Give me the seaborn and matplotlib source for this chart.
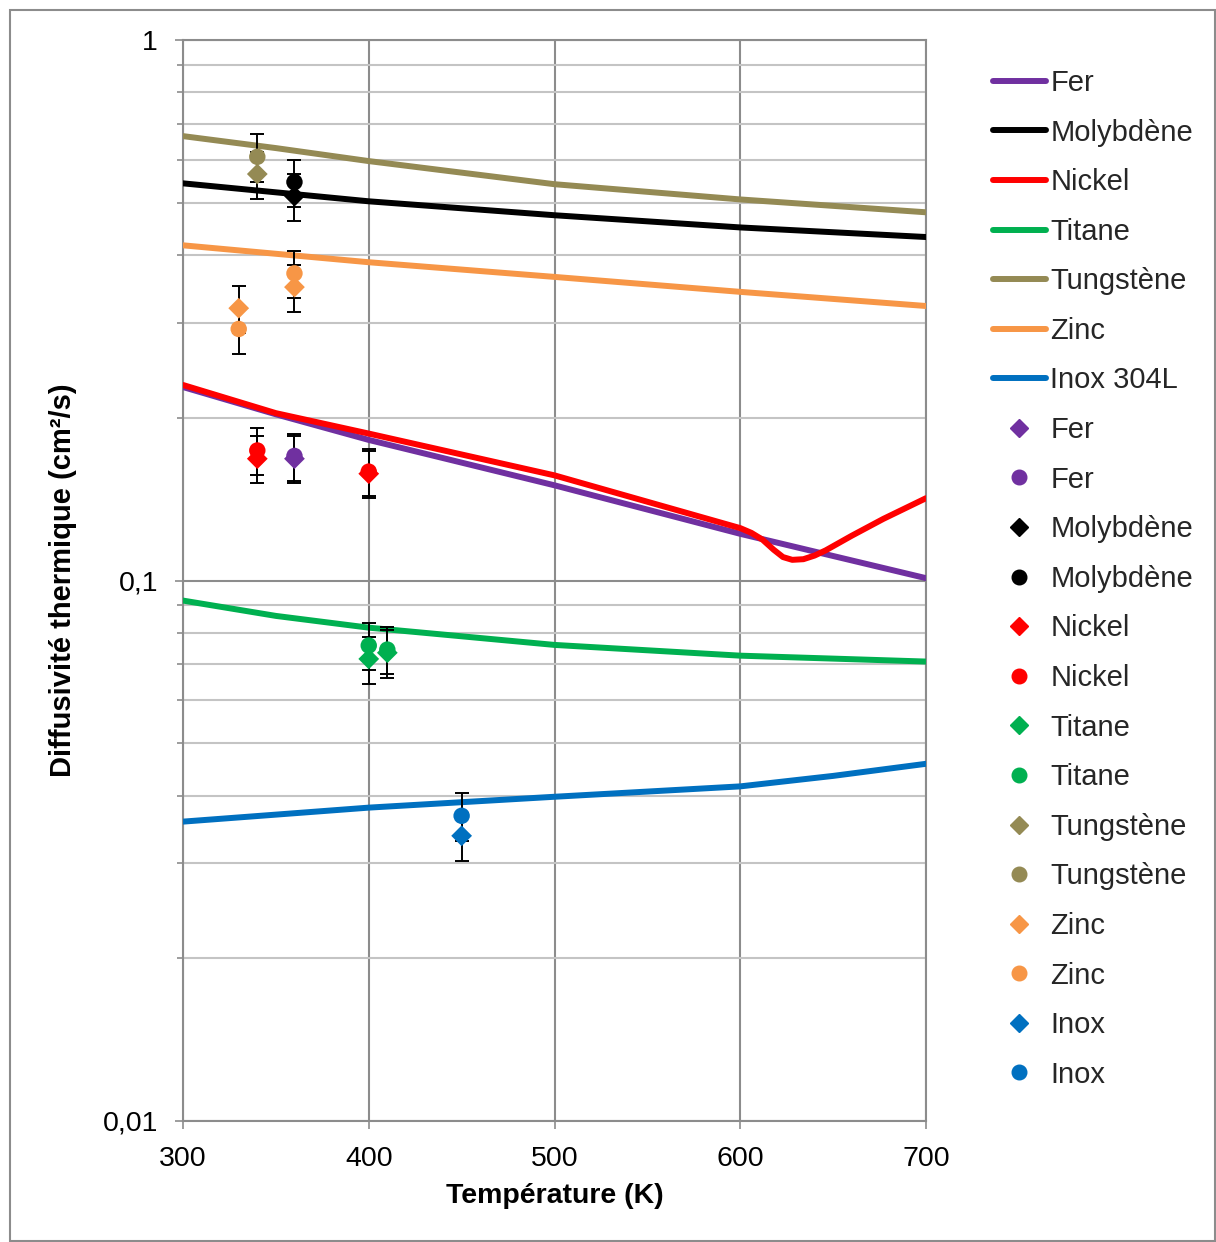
import matplotlib
matplotlib.use("Agg")
import matplotlib.pyplot as plt
import seaborn as sns
import pandas as pd
import numpy as np
from matplotlib.lines import Line2D
from matplotlib.patches import Rectangle
from matplotlib.ticker import FixedLocator, FixedFormatter, NullFormatter

# ---------------- data ----------------
T_fer = [300, 350, 400, 500, 600, 700]
D_fer = [0.228, 0.203, 0.182, 0.150, 0.122, 0.101]

T_mo = [300, 400, 500, 600, 700]
D_mo = [0.543, 0.503, 0.474, 0.450, 0.432]

T_ni = [300, 350, 400, 500, 600, 606, 612, 618, 623, 628, 634, 640, 646, 660, 677, 700]
D_ni = [0.230, 0.204, 0.187, 0.1565, 0.125, 0.1225, 0.119, 0.114, 0.1105, 0.1092, 0.1095, 0.1112, 0.1137, 0.121, 0.130, 0.142]

T_ti = [300, 350, 400, 500, 600, 700]
D_ti = [0.0918, 0.0860, 0.0818, 0.0760, 0.0726, 0.0708]

T_w = [300, 350, 400, 500, 600, 700]
D_w = [0.664, 0.631, 0.597, 0.541, 0.507, 0.480]

T_zn = [300, 400, 500, 600, 700]
D_zn = [0.417, 0.388, 0.3645, 0.342, 0.322]

T_inox = [300, 400, 500, 600, 650, 700]
D_inox = [0.0358, 0.0380, 0.0398, 0.0416, 0.0435, 0.0458]

line_labels = ["Fer", "Molybdène", "Nickel", "Titane", "Tungstène", "Zinc", "Inox 304L"]

# measured points (diamond / circle) with +-10 % error bars
pt_mat = ["Fer", "Fer", "Molybdène", "Molybdène", "Nickel", "Nickel", "Nickel", "Nickel",
          "Titane", "Titane", "Titane", "Titane", "Tungstène", "Tungstène",
          "Zinc", "Zinc", "Zinc", "Zinc", "Inox", "Inox"]
pt_kind = ["diamond", "circle", "diamond", "circle", "diamond", "circle", "diamond", "circle",
           "diamond", "circle", "diamond", "circle", "diamond", "circle",
           "diamond", "circle", "diamond", "circle", "diamond", "circle"]
pt_T = [360, 360, 360, 360, 340, 340, 400, 400,
        400, 400, 410, 410, 340, 340,
        330, 330, 360, 360, 450, 450]
pt_D = [0.168, 0.170, 0.514, 0.546, 0.168, 0.174, 0.1576, 0.159,
        0.0716, 0.0758, 0.0735, 0.0745, 0.565, 0.608,
        0.319, 0.292, 0.349, 0.370, 0.0337, 0.0367]
rel_err = 0.10

legend_point_labels = ["Fer", "Molybdène", "Nickel", "Titane", "Tungstène", "Zinc", "Inox"]

palette = {
    "Fer": "#7030A0", "Molybdène": "#000000", "Nickel": "#FF0000", "Titane": "#00B050",
    "Tungstène": "#948A54", "Zinc": "#F79646", "Inox 304L": "#0070C0", "Inox": "#0070C0",
}

x_ticks = [300, 400, 500, 600, 700]
y_ticks = [0.01, 0.1, 1]
y_tick_labels = ["0,01", "0,1", "1"]

# ---------------- build tables ----------------
curves = [(T_fer, D_fer), (T_mo, D_mo), (T_ni, D_ni), (T_ti, D_ti), (T_w, D_w), (T_zn, D_zn), (T_inox, D_inox)]
rows = []
for lab, (ts, ds) in zip(line_labels, curves):
    for t, d in zip(ts, ds):
        rows.append({"T": t, "D": d, "mat": lab})
df_lines = pd.DataFrame(rows)
df_pts = pd.DataFrame({"T": pt_T, "D": pt_D, "mat": pt_mat, "kind": pt_kind})

# ---------------- figure ----------------
sns.set_theme(style="white")
plt.rcParams['font.family'] = ['Liberation Sans', 'DejaVu Sans']
FS = 20.5
LFS = 21
LW = 4.3

W, H = 1216, 1242
fig = plt.figure(figsize=(W / 100, H / 100), dpi=100)
ax = fig.add_axes([183 / W, 1 - 1121 / H, (926 - 183) / W, (1121 - 40) / H])

grid_major = "#8C8C8C"
grid_minor = "#C4C4C4"

ax.set_yscale("log")
ax.set_xlim(300, 700)
ax.set_ylim(0.01, 1)

ax.yaxis.set_major_locator(FixedLocator(y_ticks))
ax.yaxis.set_major_formatter(FixedFormatter(y_tick_labels))
minor = [m * 10.0 ** e for e in (-2, -1) for m in range(2, 10)]
ax.yaxis.set_minor_locator(FixedLocator(minor))
ax.yaxis.set_minor_formatter(NullFormatter())
ax.xaxis.set_major_locator(FixedLocator(x_ticks))

ax.grid(True, which="major", axis="both", color=grid_major, linewidth=1.5, zorder=0)
ax.grid(True, which="minor", axis="y", color=grid_minor, linewidth=1.5, zorder=0)
ax.set_axisbelow(True)

for s in ax.spines.values():
    s.set_color(grid_major)
    s.set_linewidth(1.5)

ax.tick_params(axis="both", which="major", direction="out", length=6, width=1.2,
               color=grid_major, labelsize=FS, pad=12, labelcolor="black")
ax.tick_params(axis="y", which="minor", direction="out", length=4, width=1.2,
               color=grid_major)
ax.tick_params(axis="x", which="both", bottom=True)
ax.tick_params(axis="y", which="both", left=True)

# curves
sns.lineplot(data=df_lines, x="T", y="D", hue="mat", palette=palette, linewidth=LW,
             legend=False, ax=ax, sort=False, estimator=None, zorder=3)

# error bars
ax.errorbar(df_pts["T"], df_pts["D"], yerr=[df_pts["D"] * rel_err, df_pts["D"] * rel_err],
            fmt="none", ecolor="black", elinewidth=1.4, capsize=5, capthick=1.4, zorder=4)

# markers
dia = df_pts[df_pts["kind"] == "diamond"]
cir = df_pts[df_pts["kind"] == "circle"]
sns.scatterplot(data=cir, x="T", y="D", hue="mat", palette=palette, marker="o", s=140,
                linewidth=0, legend=False, ax=ax, zorder=5)
sns.scatterplot(data=dia, x="T", y="D", hue="mat", palette=palette, marker="D", s=112,
                linewidth=0, legend=False, ax=ax, zorder=6)

ax.set_xlabel("Température (K)", fontsize=FS, fontweight="bold", color="black")
ax.set_ylabel("Diffusivité thermique (cm²/s)", fontsize=FS + 0.5, fontweight="bold", color="black")
ax.xaxis.set_label_coords(0.5, -0.057)
ax.xaxis.label.set_va("top")
ax.yaxis.set_label_coords(-0.143, 0.5)

# legend
handles, labels = [], []
for lab in line_labels:
    handles.append(Line2D([0], [0], color=palette[lab], linewidth=LW))
    labels.append(lab)
for lab in legend_point_labels:
    handles.append(Line2D([0], [0], color=palette[lab], linestyle="none", marker="D", markersize=9.5))
    labels.append(lab)
    handles.append(Line2D([0], [0], color=palette[lab], linestyle="none", marker="o", markersize=10.5))
    labels.append(lab)
fig.legend(handles, labels, loc="upper left", bbox_to_anchor=(993 / W, 1 - 69 / H),
           frameon=False, fontsize=LFS, handlelength=1.8, handletextpad=0.17,
           labelspacing=0.74, borderpad=0, borderaxespad=0)

# outer chart border
fig.patches.append(Rectangle((10 / W, 1 / H), (W - 11) / W, (H - 11) / H, transform=fig.transFigure,
                             fill=False, edgecolor="#8C8C8C", linewidth=1.5))

fig.savefig("out.png", dpi=100)
